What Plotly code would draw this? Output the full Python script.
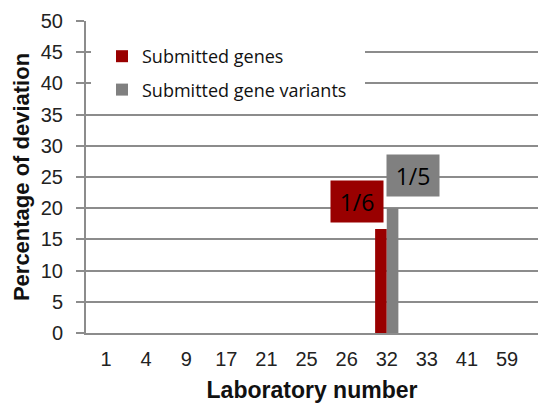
import plotly.graph_objects as go

labs = ["1", "4", "9", "17", "21", "25", "26", "32", "33", "41", "59"]
genes = [0, 0, 0, 0, 0, 0, 0, 16.67, 0, 0, 0]
variants = [0, 0, 0, 0, 0, 0, 0, 20, 0, 0, 0]
gene_label = "1/6"
variant_label = "1/5"
label_lab = "32"

W, H = 538, 403
L, R, T, B = 86, 0, 21, 70
pw = W - L - R
ph = H - T - B
cat_px = 40.1
xmax = pw / cat_px - 0.5

RED = "#990000"
GRAY = "#808080"
GRID = "#8c8c8c"

fig = go.Figure()
fig.add_bar(x=labs, y=genes, name="Submitted genes", marker_color=RED, marker_line_width=0,
            legendgroup="a")
fig.add_bar(x=labs, y=variants, name="Submitted gene variants", marker_color=GRAY, marker_line_width=0,
            legendgroup="b")

gi = labs.index(label_lab)
fig.add_annotation(x=gi, y=genes[gi], xref="x", yref="y", text=gene_label,
                   showarrow=False, xshift=-30, yshift=27, bgcolor=RED, width=50, height=39,
                   font=dict(family="Open Sans", size=23, color="#000"))
fig.add_annotation(x=gi, y=variants[gi], xref="x", yref="y", text=variant_label,
                   showarrow=False, xshift=26, yshift=33, bgcolor=GRAY, width=50, height=39,
                   font=dict(family="Open Sans", size=23, color="#000"))

# white box behind legend hiding gridlines
fig.add_shape(type="rect", xref="paper", yref="paper",
              x0=(91 - L) / pw, x1=(365 - L) / pw,
              y0=(H - B - 104) / ph, y1=(H - B - 32) / ph,
              fillcolor="white", line_width=0, layer="above")

fig.update_layout(
    width=W, height=H,
    margin=dict(l=L, r=R, t=T, b=B, pad=0),
    plot_bgcolor="white", paper_bgcolor="white",
    barmode="group", bargap=0.42, bargroupgap=0,
    font=dict(family="Liberation Sans", color="#222"),
    showlegend=True,
    legend=dict(x=(102 - L) / pw, y=(H - B - 38) / ph, xanchor="left", yanchor="top",
                bgcolor="rgba(0,0,0,0)", font=dict(family="Open Sans", size=18, color="#111"),
                tracegroupgap=7, traceorder="grouped"),
)
fig.update_xaxes(type="category", range=[-0.5, xmax], showgrid=False, showline=True, linecolor=GRID,
                 linewidth=2, ticks="", tickfont=dict(size=20, color="#222"), ticklabelstandoff=7,
                 title=dict(text="<b>Laboratory number</b>", font=dict(size=23, color="#111"), standoff=18))
fig.update_yaxes(range=[0, 50], dtick=5, showgrid=True, gridcolor=GRID, gridwidth=1.5,
                 showline=True, linecolor=GRID, linewidth=2, ticks="outside", ticklen=8, tickcolor=GRID,
                 tickwidth=1.5, tickfont=dict(size=20, color="#222"), ticklabelstandoff=9, zeroline=False,
                 title=dict(text="<b>Percentage of deviation</b>", font=dict(size=22, color="#111"), standoff=5))

fig.write_html("out.html", config={"displayModeBar": False},
               post_script="document.body.style.margin='0';document.body.style.overflow='hidden';")
